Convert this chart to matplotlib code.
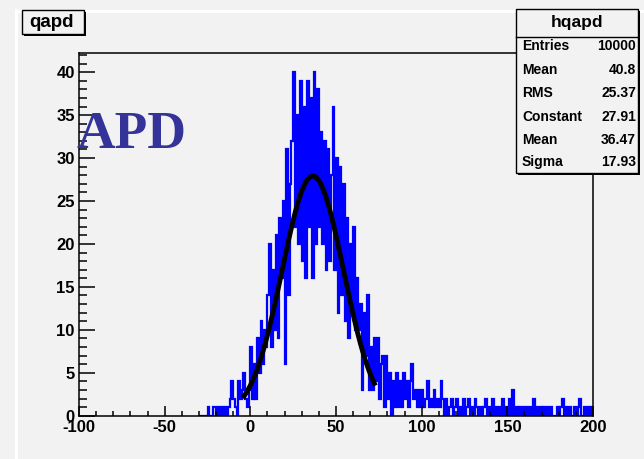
import matplotlib.pyplot as plt
from matplotlib.patches import Rectangle
import numpy as np

plt.rcParams['axes.unicode_minus'] = False

# histogramme qapd, bins de largeur 1 a partir de -30
x_start = -30
counts_rise = [0, 0, 0, 0, 0, 1, 0, 0, 1, 1,
               0, 1, 0, 1, 0, 1, 0, 1, 2, 4,
               2, 1, 0, 4, 2, 3, 5, 2, 1, 3,
               8, 2, 6, 2, 9, 5, 11, 6, 10, 8]
counts_peak = [14, 20, 8, 17, 10, 21, 9, 23, 16, 25,
               6, 31, 14, 27, 32, 40, 22, 35, 20, 39,
               18, 36, 16, 39, 22, 37, 16, 40, 20, 38,
               22, 33, 20, 32, 17, 31, 18, 28, 36, 17,
               30, 12, 29, 14, 27, 11, 23, 9, 20, 12]
counts_fall = [22, 10, 16, 10, 13, 3, 12, 7, 14, 3,
               8, 3, 9, 4, 9, 2, 6, 7, 1, 7,
               2, 5, 0, 4, 1, 5, 1, 4, 1, 5,
               2, 4, 1, 4, 6, 2, 3, 1, 3, 1,
               3, 1, 2, 4, 1, 2, 1, 3, 1, 2]
counts_tail = [1, 4, 2, 0, 2, 0, 1, 2, 0, 1,
               2, 0, 1, 0, 2, 0, 1, 2, 0, 1,
               0, 2, 1, 0, 1, 0, 1, 2, 0, 1,
               0, 2, 0, 1, 0, 1, 0, 2, 0, 1,
               0, 2, 0, 3, 0, 1, 0, 1, 0, 1,
               0, 1, 0, 1, 0, 2, 0, 1, 0, 1,
               0, 1, 0, 1, 0, 1, 0, 0, 0, 1,
               0, 1, 2, 0, 1, 0, 1, 0, 0, 1,
               0, 1, 2, 0, 0, 1, 0, 1, 0, 1]

# parametres du fit gaussien (boite de stats)
fit_const, fit_mean, fit_sigma = 27.91, 36.47, 17.93
fit_range = (-4.5, 73)

stats_labels = ['Entries', 'Mean', 'RMS', 'Constant', 'Mean', 'Sigma']
stats_values = ['10000', '40.8', '25.37', '27.91', '36.47', '17.93']

bg = '#f2f2f2'
W, H = 644, 459

counts = np.array(counts_rise + counts_peak + counts_fall + counts_tail, dtype=float)
edges = x_start + np.arange(len(counts) + 1)

fig = plt.figure(figsize=(6.44, 4.59), dpi=100, facecolor=bg)
ax = fig.add_axes([79 / W, 1 - 415.7 / H, (593 - 79) / W, (415.7 - 53.3) / H])
ax.set_facecolor(bg)

# histogramme en contour (comme ROOT)
ax.stairs(counts, edges, color='blue', lw=1.6, baseline=0)

# courbe du fit
xf = np.linspace(fit_range[0], fit_range[1], 300)
yf = fit_const * np.exp(-0.5 * ((xf - fit_mean) / fit_sigma) ** 2)
ax.plot(xf, yf, color='black', lw=3.5, solid_capstyle='butt')

ax.set_xlim(-100, 200)
ax.set_ylim(0, 42.2)
ax.set_xticks(np.arange(-100, 201, 50))
ax.set_xticks(np.arange(-100, 201, 10), minor=True)
ax.set_yticks(np.arange(0, 41, 5))
ax.set_yticks(np.arange(0, 43, 1), minor=True)
ax.tick_params(axis='x', which='major', direction='in', length=7.5, width=1.1, pad=3)
ax.tick_params(axis='x', which='minor', direction='in', length=3.8, width=1.1)
ax.tick_params(axis='y', which='major', direction='in', length=11.5, width=1.1, pad=3)
ax.tick_params(axis='y', which='minor', direction='in', length=5.8, width=1.1)
for lab in ax.get_xticklabels() + ax.get_yticklabels():
    lab.set_fontfamily('Liberation Sans')
    lab.set_fontweight('bold')
    lab.set_fontsize(12)
for s in ax.spines.values():
    s.set_linewidth(1.1)

# calque en pixels pour les boites et le texte
ov = fig.add_axes([0, 0, 1, 1], zorder=5)
ov.set_xlim(0, W)
ov.set_ylim(H, 0)
ov.axis('off')
ov.patch.set_alpha(0)

# bord du canvas
ov.plot([16, 16], [10, H], color='white', lw=2.2, zorder=0.5)
ov.plot([16, W], [10.5, 10.5], color='white', lw=2.2, zorder=0.5)

# titre
ov.add_patch(Rectangle((24, 12), 62, 24, facecolor='black', edgecolor='none', zorder=2))
ov.add_patch(Rectangle((22, 10), 62, 24, facecolor=bg, edgecolor='black', lw=1, zorder=2))
ov.text(29, 26.7, 'qapd', family='Liberation Sans', weight='bold', fontsize=13.5,
        ha='left', va='baseline', zorder=3)

# texte APD
ov.text(77, 147.5, 'APD', family='Liberation Serif', weight='bold', fontsize=38.5,
        color='#333399', ha='left', va='baseline')

# boite de stats
ov.add_patch(Rectangle((518, 11), 122, 164, facecolor='black', edgecolor='none', zorder=2))
ov.add_patch(Rectangle((516, 9), 122, 164, facecolor=bg, edgecolor='black', lw=1, zorder=2))
ov.plot([516, 638], [37, 37], color='black', lw=1, zorder=3)
ov.text(577, 26.7, 'hqapd', family='Liberation Sans', weight='bold', fontsize=12.5,
        ha='center', va='baseline', zorder=3)
baselines = [50, 74, 97.3, 120.7, 144, 166]
for lab, val, yb in zip(stats_labels, stats_values, baselines):
    ov.text(522, yb, lab, family='Liberation Sans', weight='bold', fontsize=10,
            ha='left', va='baseline', zorder=3)
    ov.text(636, yb, val, family='Liberation Sans', weight='bold', fontsize=10,
            ha='right', va='baseline', zorder=3)

fig.savefig('out.png', dpi=100, facecolor=bg)
